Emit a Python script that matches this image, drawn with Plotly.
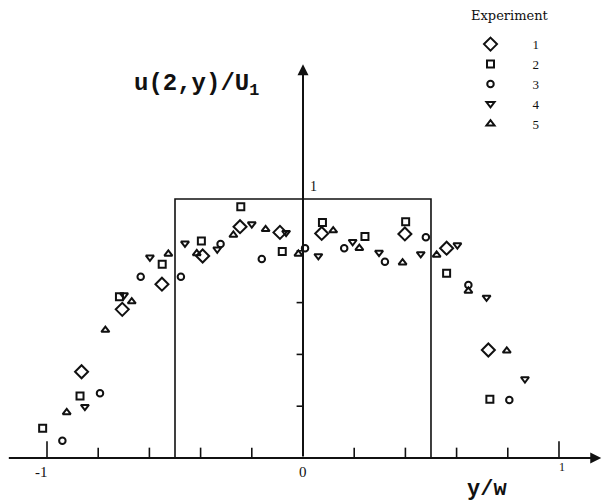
import plotly.graph_objects as go

# Normalised velocity profile u(2,y)/U1 against y/w for five experiments
exp1_x = [-0.865, -0.706, -0.551, -0.392, -0.246, -0.090, 0.073, 0.398, 0.561, 0.724]
exp1_y = [0.333, 0.574, 0.671, 0.780, 0.893, 0.871, 0.867, 0.865, 0.810, 0.417]

exp2_x = [-1.017, -0.871, -0.717, -0.550, -0.397, -0.243, -0.081, 0.076, 0.242, 0.401, 0.561, 0.730]
exp2_y = [0.115, 0.239, 0.623, 0.748, 0.838, 0.970, 0.797, 0.909, 0.855, 0.912, 0.713, 0.227]

exp3_x = [-0.940, -0.793, -0.634, -0.477, -0.322, -0.161, 0.008, 0.161, 0.320, 0.480, 0.646, 0.806]
exp3_y = [0.067, 0.250, 0.700, 0.700, 0.826, 0.768, 0.810, 0.810, 0.758, 0.852, 0.668, 0.224]

exp4_x = [-0.852, -0.699, -0.598, -0.461, -0.335, -0.200, -0.066, 0.060, 0.194, 0.297, 0.460, 0.603, 0.717, 0.867]
exp4_y = [0.198, 0.629, 0.775, 0.829, 0.806, 0.903, 0.870, 0.780, 0.835, 0.793, 0.788, 0.822, 0.620, 0.305]

exp5_x = [-0.923, -0.772, -0.669, -0.526, -0.415, -0.272, -0.146, -0.018, 0.118, 0.220, 0.389, 0.522, 0.646, 0.796]
exp5_y = [0.176, 0.494, 0.604, 0.788, 0.790, 0.861, 0.883, 0.788, 0.878, 0.810, 0.754, 0.784, 0.645, 0.414]

# Ideal top-hat profile of half-width 0.5 and unit height
hat_x = [-0.5, -0.5, 0.5, 0.5]
hat_y = [0.0, 1.0, 1.0, 0.0]

x_ticks = [-1.0, -0.8, -0.6, -0.4, -0.2, 0.2, 0.4, 0.6, 0.8, 1.0]
y_ticks = [0.2, 0.4, 0.6, 0.8]
x_tick_labels = {-1.0: "-1", 0.0: "0", 1.0: "1"}

INK = "#111111"
SERIF = "Liberation Serif"
MONO = "Liberation Mono"

series = [
    ("1", exp1_x, exp1_y, "diamond-open", 10),
    ("2", exp2_x, exp2_y, "square-open", 7),
    ("3", exp3_x, exp3_y, "circle-open", 6.5),
    ("4", exp4_x, exp4_y, "triangle-down-open", 7),
    ("5", exp5_x, exp5_y, "triangle-up-open", 7),
]

fig = go.Figure()

fig.add_trace(go.Scatter(x=hat_x, y=hat_y, mode="lines",
                         line=dict(color=INK, width=1.6), showlegend=False,
                         hoverinfo="skip"))

for name, xs, ys, sym, size in series:
    fig.add_trace(go.Scatter(
        x=xs, y=ys, mode="markers", name=name,
        marker=dict(symbol=sym, size=size, color=INK,
                    line=dict(color=INK, width=2)),
    ))

shapes = []
# x-axis tick marks pointing upward
for t in x_ticks:
    h = 0.065 if abs(t) == 1.0 else 0.04
    shapes.append(dict(type="line", xref="x", yref="y", x0=t, x1=t, y0=0, y1=h,
                       line=dict(color=INK, width=1.6)))
# y-axis tick marks pointing left
for t in y_ticks:
    shapes.append(dict(type="line", xref="x", yref="y", x0=-0.025, x1=0, y0=t, y1=t,
                       line=dict(color=INK, width=1.6)))

annotations = [
    # x axis with arrowhead
    dict(x=1.165, y=0, ax=-1.155, ay=0, xref="x", yref="y", axref="x", ayref="y",
         showarrow=True, arrowhead=2, arrowsize=1.1, arrowwidth=2, arrowcolor=INK, text=""),
    # y axis with arrowhead
    dict(x=0, y=1.52, ax=0, ay=0, xref="x", yref="y", axref="x", ayref="y",
         showarrow=True, arrowhead=2, arrowsize=1.1, arrowwidth=2, arrowcolor=INK, text=""),
    dict(x=0.04, y=1.05, xref="x", yref="y", text="1", showarrow=False,
         font=dict(family=SERIF, size=14, color=INK)),
    dict(x=-0.415, y=1.44, xref="x", yref="y", text="<b>u(2,y)/U<sub>1</sub></b>", showarrow=False,
         font=dict(family=MONO, size=24, color=INK)),
    dict(x=0.72, y=-0.12, xref="x", yref="y", text="<b>y/w</b>", showarrow=False,
         font=dict(family=MONO, size=22, color=INK)),
    # legend heading
    dict(x=510 / 602, y=1 - 16 / 503, xref="paper", yref="paper", text="Experiment",
         xanchor="center", yanchor="middle",
         showarrow=False, font=dict(family="DejaVu Serif", size=13, color=INK)),
]
for v, lab in x_tick_labels.items():
    annotations.append(dict(x=v - (0.02 if v < 0 else 0) + (0.01 if v > 0 else 0),
                            y=-0.055 if v <= 0 else -0.035,
                            xref="x", yref="y", text=lab, showarrow=False,
                            font=dict(family=SERIF, size=15 if v <= 0 else 12, color=INK)))

fig.update_layout(
    width=602, height=503,
    margin=dict(l=0, r=0, t=0, b=0),
    paper_bgcolor="white", plot_bgcolor="white",
    xaxis=dict(range=[-1.1836, 1.168], visible=False, fixedrange=True),
    yaxis=dict(range=[-0.1737, 1.7683], visible=False, fixedrange=True),
    shapes=shapes, annotations=annotations,
    showlegend=True,
    legend=dict(
        x=0.745, y=0.942, xanchor="left", yanchor="top",
        font=dict(family=SERIF, size=13, color=INK),
        itemwidth=74, bgcolor="rgba(0,0,0,0)", borderwidth=0,
        tracegroupgap=0,
    ),
)

fig.write_html("out.html")
